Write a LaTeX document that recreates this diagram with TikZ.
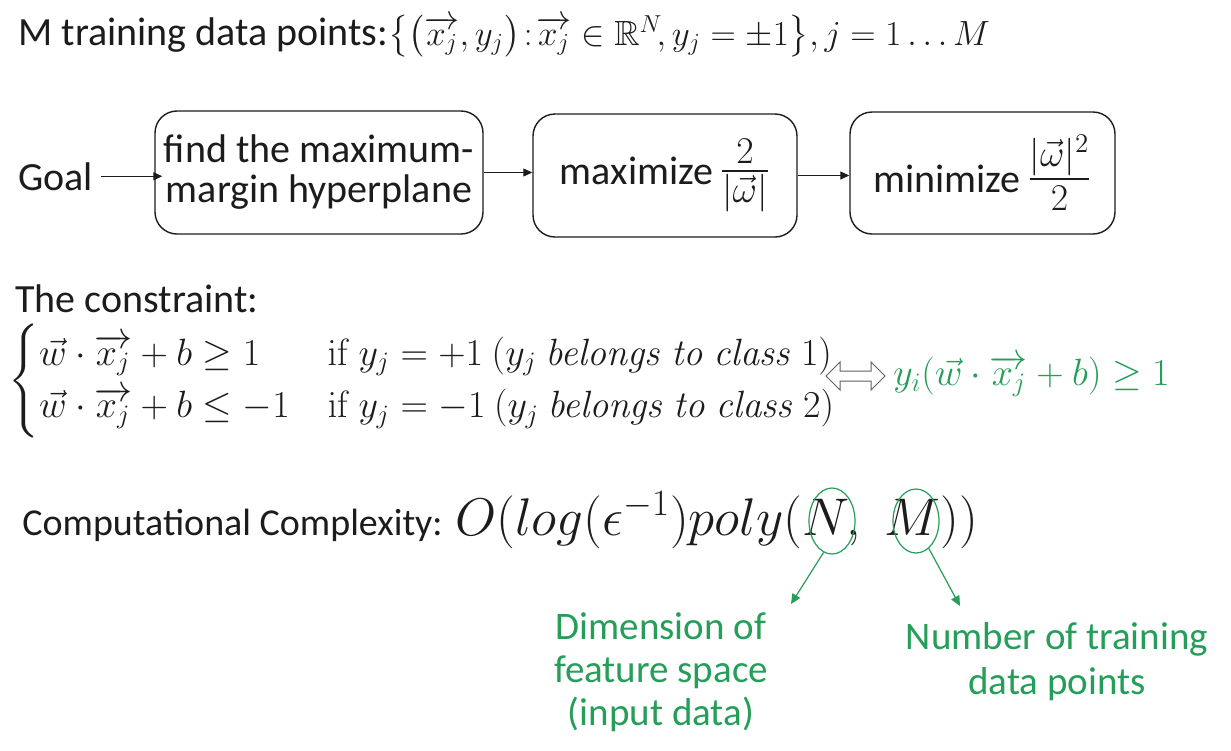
\RequirePackage{fix-cm}
\documentclass[tikz,border=0pt]{standalone}
\usepackage{amsmath,amssymb}
\usepackage[no-math]{fontspec}
\setmainfont{Carlito}
\usetikzlibrary{arrows.meta,shapes.geometric}
\definecolor{ink}{RGB}{28,28,28}
\definecolor{grn}{RGB}{36,158,88}
\begin{document}
\begin{tikzpicture}[x=0.5pt,y=-0.5pt,
  txt/.style={font=\fontsize{20}{20}\selectfont, text=ink, inner sep=0pt},
  box/.style={draw=ink, line width=0.7pt, rounded corners=11pt, align=center,
    font=\fontsize{20}{20}\selectfont, text=ink, inner sep=0pt},
  arr/.style={-{Triangle[length=4.5pt,width=4pt]}, line width=0.6pt, draw=ink},
  garr/.style={-{Triangle[length=5pt,width=4.5pt]}, line width=0.6pt, draw=grn},
  gtxt/.style={align=center, text=grn, inner sep=0pt},
  ring/.style={draw=grn, ellipse, line width=0.6pt, inner sep=0pt}]
\useasboundingbox (0,0) rectangle (1231,750);
\fill[white] (0,0) rectangle (1231,750);
% title
\node[txt, anchor=base west] (title) at (18,45)
  {M training data points:{\fontsize{17.5}{20}\selectfont$\bigl\{\bigl(\overrightarrow{x_j}, y_j\bigr)\!:\!\overrightarrow{x_j}\in\mathbb{R}^N\!, y_j=\pm1\bigr\}, j=1\ldots M$}};
% goal row
\node[txt, anchor=base west] (goal) at (18,190) {Goal};
\node[box, minimum width=164pt, minimum height=61.5pt] (b1) at (319,172.5)
  {find the maximum-\\margin hyperplane};
\node[box, minimum width=132pt, minimum height=61.5pt] (b2) at (665,175.5)
  {maximize\,{\fontsize{27}{27}\selectfont$\tfrac{2}{|\vec{\omega}|}$}};
\node[box, minimum width=132.5pt, minimum height=61pt] (b3) at (982.5,173)
  {minimize\,{\fontsize{27}{27}\selectfont$\tfrac{|\vec{\omega}|^2}{2}$}};
\draw[arr] ([xshift=4pt]goal.east) -- ([xshift=4pt]goal.east -| b1.west);
\draw[arr] (b1.east) -- (b1.east -| b2.west);
\draw[arr] (b2.east) -- (b2.east -| b3.west);
% constraint
\node[txt, anchor=base west] (ct) at (15,312) {The constraint:};
\node[anchor=west, inner sep=0pt, text=ink, font=\fontsize{19}{22}\selectfont] (cases) at (8,381)
  {$\begin{cases}
    \vec{w}\cdot\overrightarrow{x_j}+b\ge1 & \mathrm{if}\ y_j=+1\ (y_j\ \mathit{belongs\ to\ class}\ 1)\\
    \vec{w}\cdot\overrightarrow{x_j}+b\le-1 & \mathrm{if}\ y_j=-1\ (y_j\ \mathit{belongs\ to\ class}\ 2)
  \end{cases}$};
\draw[draw=ink!70, line width=0.5pt, fill=white]
  (826,376) -- (840,362) -- (840,371) -- (871,371) -- (871,362) -- (885,376)
  -- (871,390) -- (871,381) -- (840,381) -- (840,390) -- cycle;
\node[anchor=west, inner sep=0pt, text=grn, font=\fontsize{19}{22}\selectfont] (geq) at (893,376)
  {$y_i(\vec{w}\cdot\overrightarrow{x_j}+b)\ge1$};
% complexity
\node[txt, anchor=base west, font=\fontsize{19}{20}\selectfont] (cc) at (22,535) {Computational Complexity:};
\node[anchor=base west, inner sep=0pt, text=ink, font=\fontsize{26.5}{30}\selectfont] (cf) at (455,535)
  {$O(log(\epsilon^{-1})poly(N,\;M))$};
\node[ring, minimum width=23pt, minimum height=33pt] (cN) at (832,521) {};
\node[ring, minimum width=23pt, minimum height=32pt] (cM) at (916,521) {};
\coordinate (eN) at (791,604);
\coordinate (eM) at (960,606);
\draw[garr] (cN.255) -- (eN);
\draw[garr] (cM.295) -- (eM);
\node[gtxt, font=\fontsize{19.5}{21.5}\selectfont] (dim) at (661,672)
  {Dimension of\\feature space\\(input data)};
\node[gtxt, font=\fontsize{19.5}{22.5}\selectfont] (num) at (1057,662)
  {Number of training\\data points};
\end{tikzpicture}
\end{document}
